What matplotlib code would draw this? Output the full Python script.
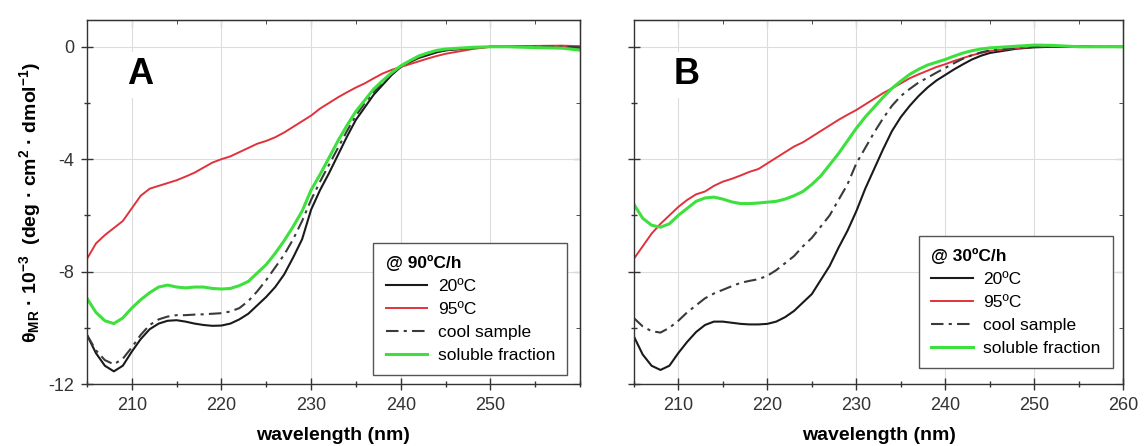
import numpy as np
import matplotlib
matplotlib.use('Agg')
import matplotlib.pyplot as plt
from matplotlib.ticker import MultipleLocator

plt.rcParams['font.family'] = ['Liberation Sans', 'DejaVu Sans']
plt.rcParams['mathtext.fontset'] = 'custom'
plt.rcParams['mathtext.rm'] = 'Liberation Sans:bold'
plt.rcParams['mathtext.it'] = 'Liberation Sans:bold'
plt.rcParams['mathtext.bf'] = 'Liberation Sans:bold'
plt.rcParams['axes.unicode_minus'] = False

# wavelength grid (nm) shared by all curves
wl = list(range(205, 246)) + [248, 250, 252, 255, 258, 260]

# panel A, 90 C/h
a_20 = [-10.25, -10.9, -11.35, -11.55, -11.35, -10.85, -10.4, -10.05, -9.85, -9.75,
        -9.73, -9.78, -9.85, -9.9, -9.93, -9.92, -9.85, -9.7, -9.5, -9.2,
        -8.9, -8.55, -8.1, -7.5, -6.85, -5.8, -5.1, -4.5, -3.85, -3.2,
        -2.6, -2.15, -1.7, -1.35, -1.0, -0.72, -0.55, -0.4, -0.3, -0.2,
        -0.13, -0.04, 0.0, 0.0, 0.0, -0.02, -0.03]
a_95 = [-7.55, -7.0, -6.7, -6.45, -6.2, -5.75, -5.3, -5.05, -4.95, -4.85,
        -4.75, -4.62, -4.48, -4.3, -4.12, -4.0, -3.9, -3.75, -3.6, -3.45,
        -3.35, -3.22, -3.05, -2.85, -2.65, -2.45, -2.2, -2.0, -1.8, -1.62,
        -1.45, -1.3, -1.12, -0.95, -0.82, -0.72, -0.62, -0.52, -0.42, -0.33,
        -0.25, -0.08, 0.0, 0.02, 0.03, 0.04, 0.02]
a_cool = [-10.25, -10.8, -11.15, -11.3, -11.1, -10.7, -10.25, -9.9, -9.7, -9.6,
          -9.55, -9.55, -9.53, -9.52, -9.5, -9.48, -9.42, -9.3, -9.05, -8.7,
          -8.3, -7.85, -7.4, -6.85, -6.2, -5.45, -4.8, -4.2, -3.6, -3.0,
          -2.45, -2.0, -1.6, -1.25, -0.95, -0.72, -0.52, -0.38, -0.27, -0.18,
          -0.12, -0.04, 0.0, 0.0, 0.0, 0.0, -0.02]
a_sol = [-8.95, -9.45, -9.75, -9.85, -9.65, -9.3, -9.0, -8.75, -8.55, -8.48,
         -8.55, -8.58, -8.55, -8.55, -8.6, -8.62, -8.6, -8.5, -8.35, -8.05,
         -7.75, -7.35, -6.9, -6.4, -5.85, -5.1, -4.55, -3.95, -3.35, -2.8,
         -2.3, -1.9, -1.5, -1.2, -0.92, -0.68, -0.5, -0.33, -0.22, -0.13,
         -0.08, -0.02, 0.0, 0.0, -0.03, -0.05, -0.12]

# panel B, 30 C/h
b_20 = [-10.3, -10.95, -11.35, -11.5, -11.35, -10.9, -10.5, -10.15, -9.9, -9.78,
        -9.78, -9.82, -9.86, -9.88, -9.88, -9.86, -9.78, -9.62, -9.4, -9.1,
        -8.8, -8.3, -7.8, -7.15, -6.55, -5.85, -5.05, -4.35, -3.65, -3.0,
        -2.5, -2.1, -1.75, -1.45, -1.2, -1.0, -0.8, -0.62, -0.45, -0.32,
        -0.22, -0.07, -0.02, 0.0, 0.0, 0.0, 0.0]
b_95 = [-7.55, -7.1, -6.65, -6.3, -6.0, -5.7, -5.45, -5.25, -5.15, -4.95,
        -4.8, -4.7, -4.58, -4.45, -4.35, -4.15, -3.95, -3.75, -3.55, -3.4,
        -3.2, -3.0, -2.8, -2.6, -2.42, -2.25, -2.05, -1.85, -1.65, -1.48,
        -1.3, -1.12, -0.98, -0.85, -0.72, -0.62, -0.5, -0.4, -0.3, -0.22,
        -0.15, -0.05, 0.0, 0.02, 0.02, 0.0, 0.0]
b_cool = [-9.65, -9.95, -10.12, -10.17, -10.0, -9.75, -9.45, -9.2, -8.95, -8.78,
          -8.65, -8.52, -8.4, -8.33, -8.27, -8.15, -7.95, -7.7, -7.45, -7.1,
          -6.8, -6.4, -6.0, -5.45, -4.9, -4.15, -3.6, -3.05, -2.55, -2.1,
          -1.75, -1.5, -1.27, -1.1, -0.92, -0.75, -0.58, -0.42, -0.3, -0.2,
          -0.13, -0.04, 0.0, 0.0, 0.0, 0.0, 0.0]
b_sol = [-5.6, -6.1, -6.35, -6.42, -6.3, -6.0, -5.75, -5.5, -5.38, -5.35,
         -5.42, -5.52, -5.58, -5.58, -5.56, -5.53, -5.5, -5.42, -5.3, -5.15,
         -4.9, -4.6, -4.2, -3.8, -3.35, -2.9, -2.5, -2.15, -1.8, -1.48,
         -1.22, -0.98, -0.8, -0.65, -0.55, -0.45, -0.33, -0.22, -0.14, -0.08,
         -0.04, 0.02, 0.06, 0.05, 0.0, 0.0, 0.0]

labels = ['20ºC', '95ºC', 'cool sample', 'soluble fraction']

fig = plt.figure(figsize=(11.44, 4.46), dpi=100)
axA = fig.add_axes([0.076, 0.139, 0.431, 0.816])
axB = fig.add_axes([0.554, 0.139, 0.428, 0.816])

panels = [(axA, 'A', '@ 90ºC/h', [a_20, a_95, a_cool, a_sol], (0.974, 0.025)),
          (axB, 'B', '@ 30ºC/h', [b_20, b_95, b_cool, b_sol], (0.978, 0.044))]

for ax, letter, title, curves, anchor in panels:
    ax.plot(wl, curves[0], color='#1a1a1a', lw=1.5, label=labels[0])
    ax.plot(wl, curves[1], color='#e0323c', lw=1.4, label=labels[1])
    ax.plot(wl, curves[2], color='#3a3a3a', lw=1.5, ls=(0, (6, 2.5, 1.5, 2.5)), label=labels[2])
    ax.plot(wl, curves[3], color='#3ee03e', lw=2.2, label=labels[3])

    ax.set_xlim(205, 260)
    ax.set_ylim(-12, 0.95)
    ax.xaxis.set_major_locator(MultipleLocator(10))
    ax.xaxis.set_minor_locator(MultipleLocator(5))
    ax.yaxis.set_major_locator(MultipleLocator(4))
    ax.yaxis.set_minor_locator(MultipleLocator(2))
    ax.grid(True, which='major', color='#dcdcdc', lw=0.8)
    ax.set_axisbelow(True)
    ax.tick_params(which='both', direction='inout', labelsize=13,
                   colors='#333333', pad=5)
    ax.tick_params(which='major', length=8, width=1)
    ax.tick_params(which='minor', length=5, width=1)
    for sp in ax.spines.values():
        sp.set_color('#333333')
        sp.set_linewidth(1.0)

    # inward ticks on top and right
    top = ax.secondary_xaxis('top')
    top.xaxis.set_major_locator(MultipleLocator(10))
    top.xaxis.set_minor_locator(MultipleLocator(5))
    top.tick_params(which='both', direction='in', labeltop=False, colors='#333333')
    top.tick_params(which='major', length=5)
    top.tick_params(which='minor', length=3)
    right = ax.secondary_yaxis('right')
    right.yaxis.set_major_locator(MultipleLocator(4))
    right.yaxis.set_minor_locator(MultipleLocator(2))
    right.tick_params(which='both', direction='in', labelright=False, colors='#333333')
    right.tick_params(which='major', length=5)
    right.tick_params(which='minor', length=3)

    ax.set_xlabel('wavelength (nm)', fontsize=14, fontweight='bold', labelpad=10)

    ax.text(0.107, 0.85, letter, transform=ax.transAxes, fontsize=26,
            fontweight='bold', ha='center', va='center',
            bbox=dict(facecolor='white', edgecolor='none', pad=4))

    leg = ax.legend(title=title, loc='lower right', bbox_to_anchor=anchor,
                    borderaxespad=0, fontsize=12.5, fancybox=False,
                    edgecolor='#555555', framealpha=1, handlelength=2.4,
                    handletextpad=0.6, labelspacing=0.45, borderpad=0.7,
                    title_fontproperties={'weight': 'bold', 'size': 12.5})
    leg._legend_box.align = 'left'
    leg.get_frame().set_linewidth(1.0)

axA.set_xticks([210, 220, 230, 240, 250])
axA.set_yticks([0, -4, -8, -12])
axA.set_yticklabels(['0', '-4', '-8', '-12'])
axB.set_yticklabels([])
axA.set_ylabel(r'θ$_{MR}$ · 10$^{-3}$  (deg · cm$^{2}$ · dmol$^{-1}$)',
               fontsize=14, fontweight='bold', labelpad=4)

plt.savefig('out.png', dpi=100)
